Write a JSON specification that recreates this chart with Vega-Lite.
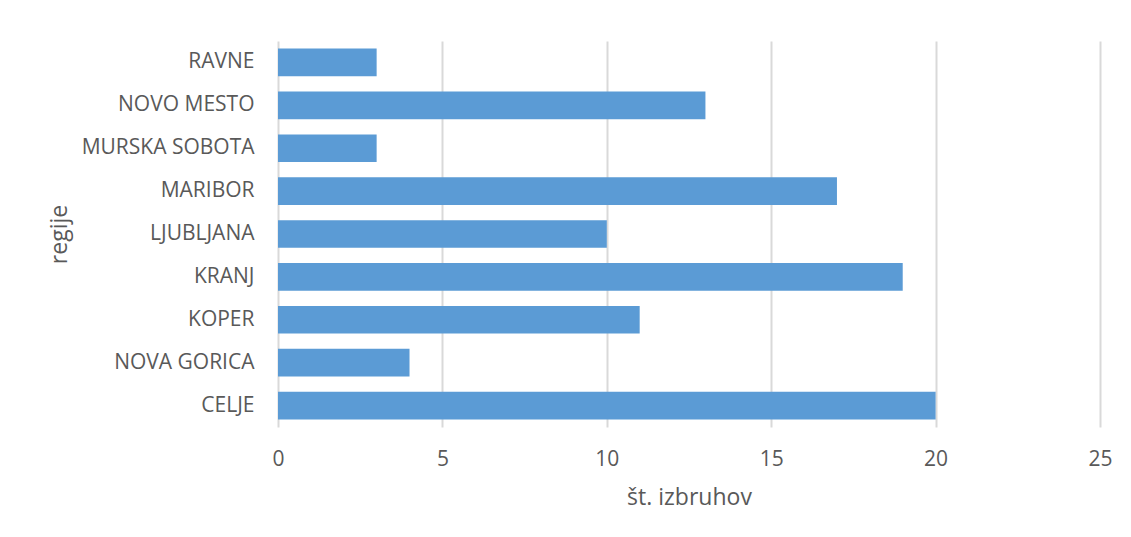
{
  "$schema": "https://vega.github.io/schema/vega-lite/v6.json",
  "width": 822,
  "height": 386,
  "autosize": {"type": "none"},
  "padding": {"left": 278, "top": 41, "right": 31, "bottom": 110},
  "background": "#ffffff",
  "config": {
    "view": {"stroke": null},
    "font": "Open Sans",
    "axis": {
      "labelColor": "#595959",
      "titleColor": "#595959",
      "labelFont": "Open Sans",
      "titleFont": "Open Sans",
      "labelFontSize": 21,
      "titleFontSize": 23,
      "titleFontWeight": "normal",
      "domain": false,
      "ticks": false,
      "tickSize": 0
    }
  },
  "data": {
    "values": [
      {"regija": "RAVNE\u00a0", "izbruhi": 3},
      {"regija": "NOVO MESTO", "izbruhi": 13},
      {"regija": "MURSKA SOBOTA", "izbruhi": 3},
      {"regija": "MARIBOR", "izbruhi": 17},
      {"regija": "LJUBLJANA", "izbruhi": 10},
      {"regija": "KRANJ", "izbruhi": 19},
      {"regija": "KOPER", "izbruhi": 11},
      {"regija": "NOVA GORICA", "izbruhi": 4},
      {"regija": "CELJE", "izbruhi": 20}
    ]
  },
  "mark": {"type": "bar", "color": "#5B9BD5"},
  "encoding": {
    "y": {
      "field": "regija",
      "type": "nominal",
      "sort": null,
      "scale": {"paddingInner": 0.355, "paddingOuter": 0.1775},
      "axis": {
        "title": "regije",
        "labelPadding": 24,
        "titlePadding": 10,
        "grid": false
      }
    },
    "x": {
      "field": "izbruhi",
      "type": "quantitative",
      "scale": {"domain": [0, 25], "nice": false},
      "axis": {
        "title": "št. izbruhov",
        "values": [0, 5, 10, 15, 20, 25],
        "labelFlush": false,
        "labelPadding": 21,
        "titlePadding": 17,
        "grid": true,
        "gridColor": "#d9d9d9",
        "gridWidth": 2
      }
    }
  }
}
